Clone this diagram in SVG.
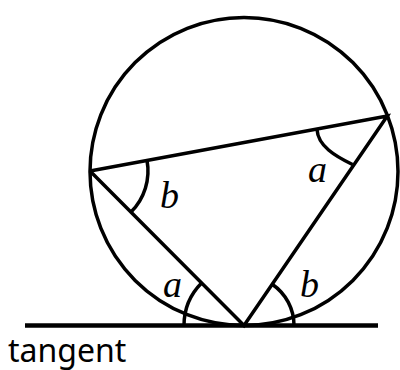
<svg xmlns="http://www.w3.org/2000/svg" width="400" height="370" viewBox="0 0 400 370">
<style>
.ln{fill:none;stroke:#000;stroke-width:3.5}
.tg{fill:none;stroke:#000;stroke-width:4.5}
.lb{font-family:"Liberation Serif",serif;font-style:italic;font-size:38px;fill:#000}
.tx{font-family:"Noto Sans",sans-serif;font-size:32px;fill:#000}
</style>
<rect width="400" height="370" fill="#fff"/>
<g id="circle"><circle class="ln" cx="244" cy="171.5" r="154"/></g>
<g id="connectors">
<line class="tg" x1="25" y1="325.5" x2="378" y2="325.5"/>
<polyline class="ln" points="90,171 387.3,116 244,325.5 90,171" stroke-linejoin="miter"/>
<path class="ln" d="M147,160.4 A58,58 0 0 1 131,212"/>
<path class="ln" d="M317,129.5 C318,146 335,156 352.5,164.5"/>
<path class="ln" d="M184,325.5 A60,60 0 0 1 201.6,283"/>
<path class="ln" d="M272.2,284.2 A50,50 0 0 1 294,325.5"/>
</g>
<g id="labels">
<text class="lb" x="160" y="208">b</text>
<text class="lb" x="308" y="182">a</text>
<text class="lb" x="163" y="297">a</text>
<text class="lb" x="300" y="297">b</text>
<text class="tx" x="8" y="362">tangent</text>
</g>
</svg>
